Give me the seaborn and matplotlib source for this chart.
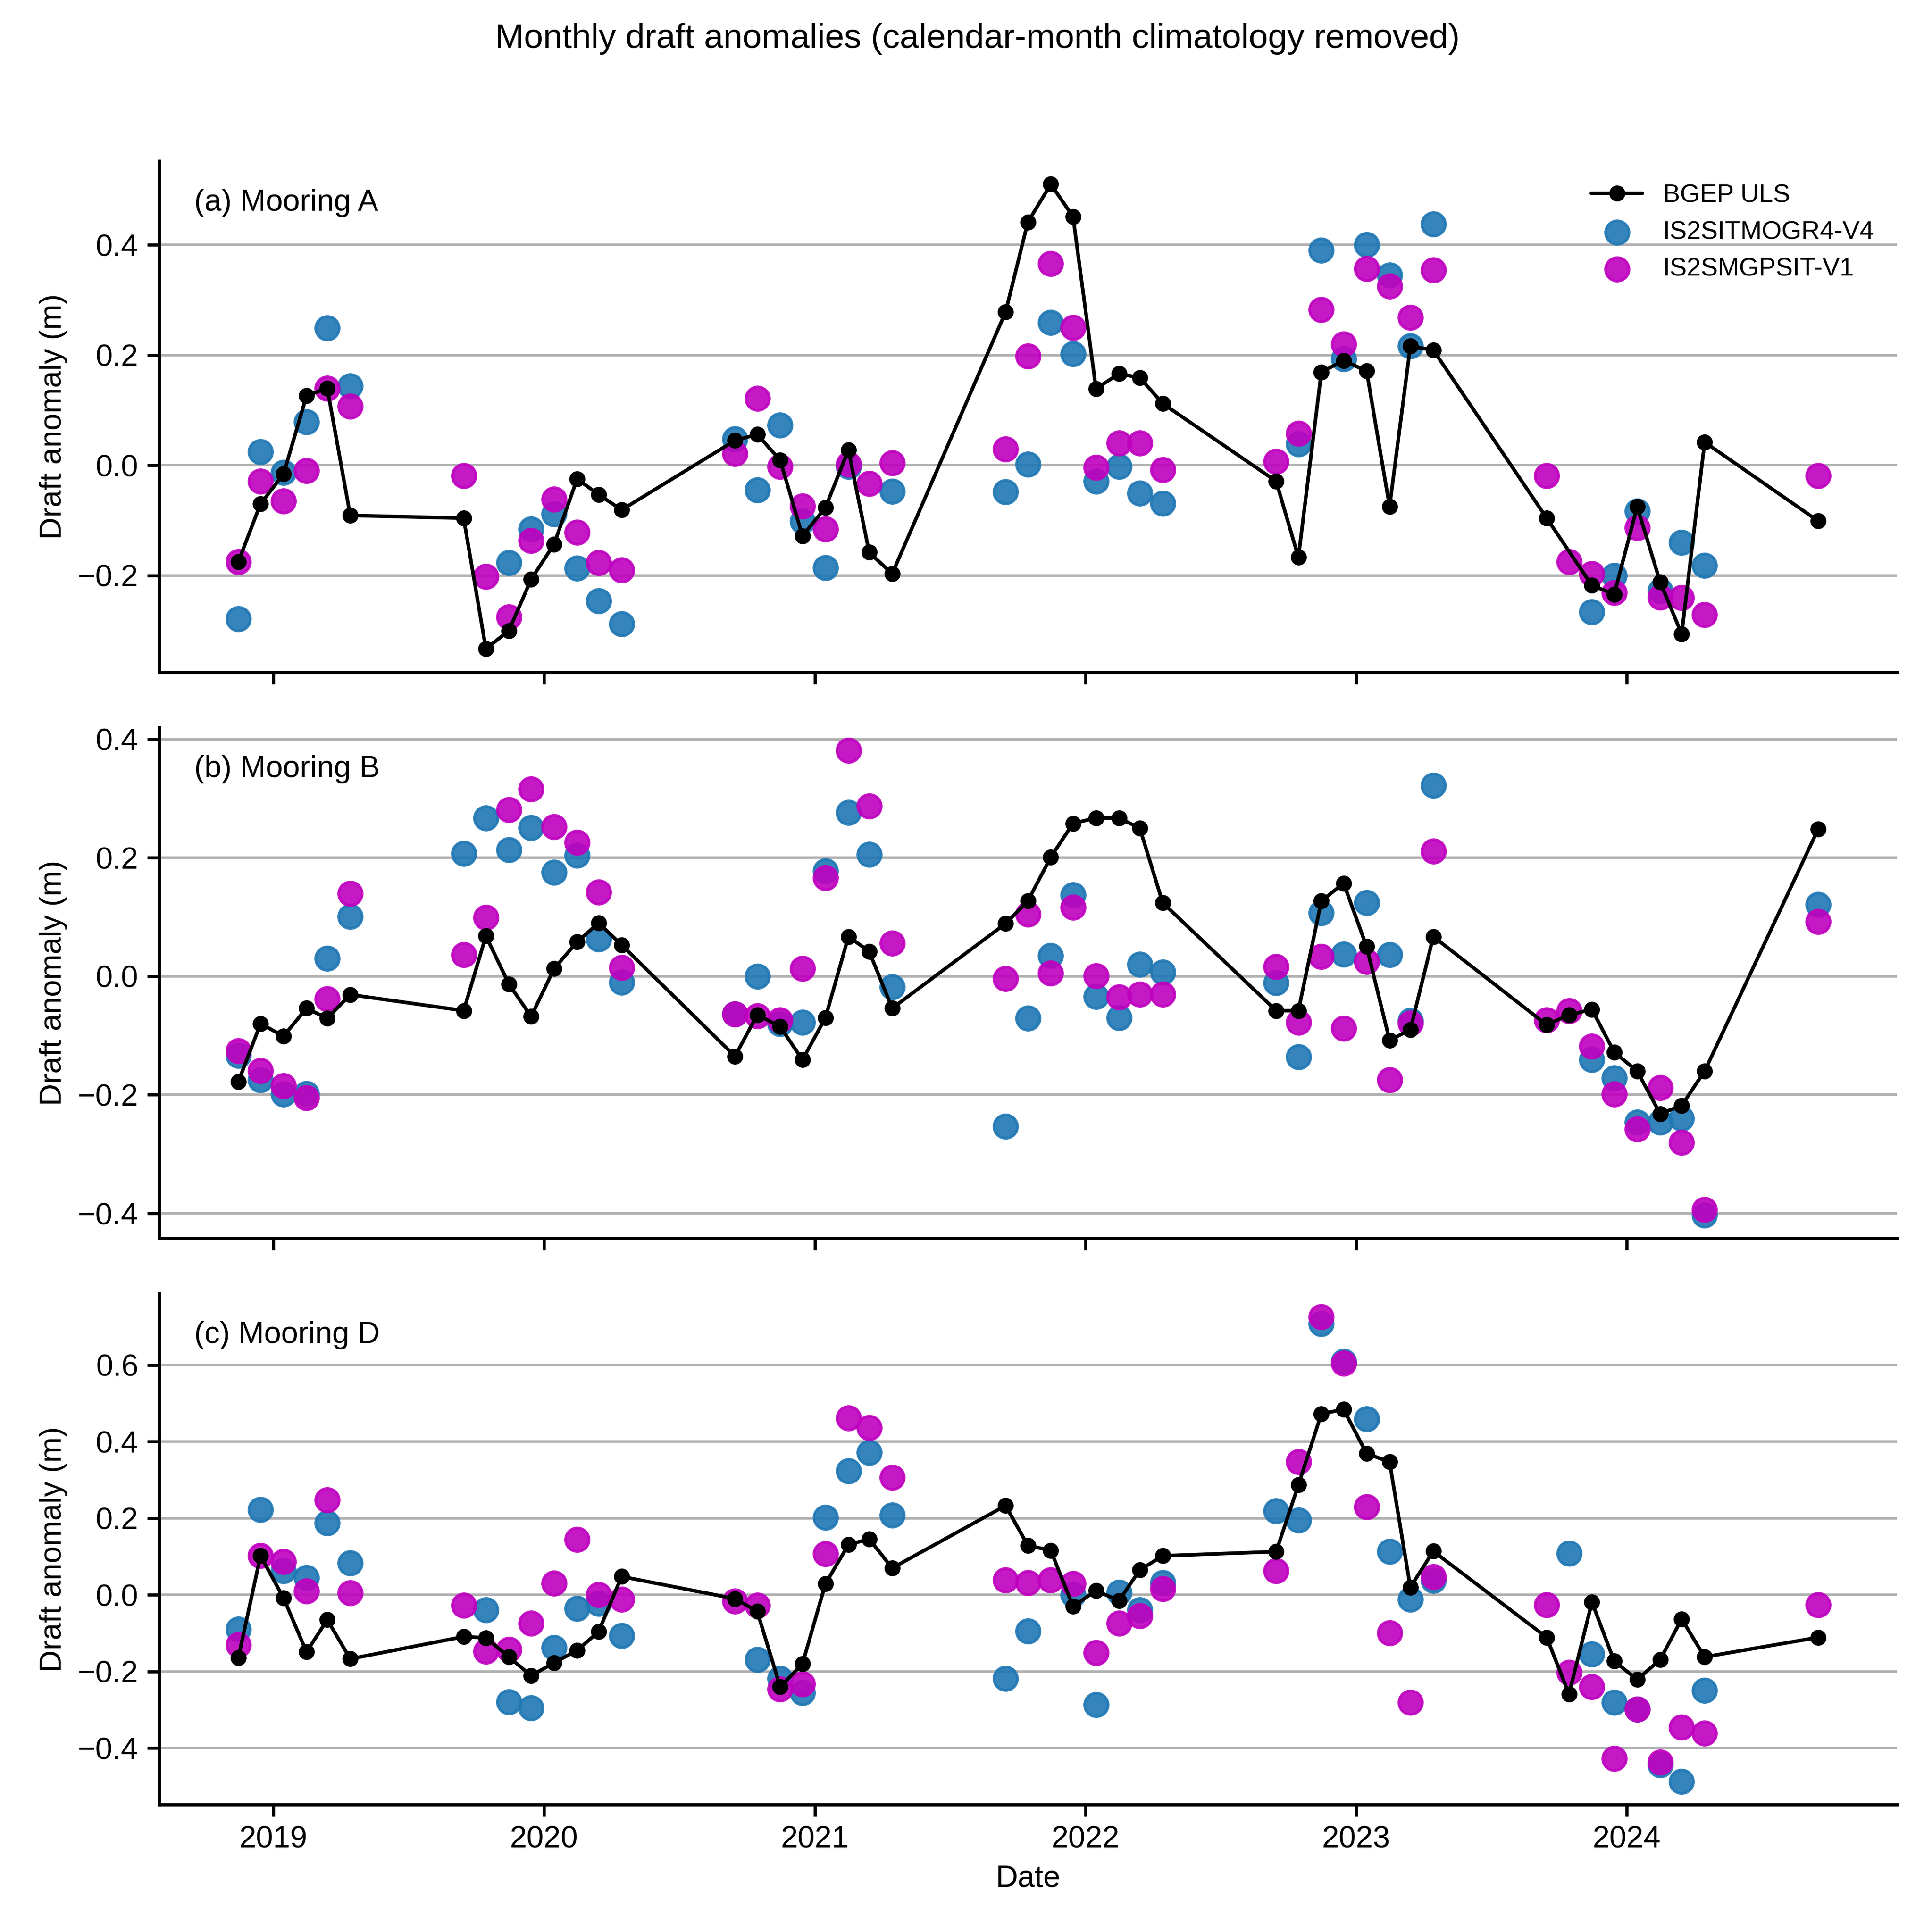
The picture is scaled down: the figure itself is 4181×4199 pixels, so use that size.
import numpy as np
import pandas as pd
import seaborn as sns
import matplotlib.pyplot as plt
import matplotlib.dates as mdates

# mid-month dates of the winter months with data
dates = [
    '2018-11-15', '2018-12-15', '2019-01-15', '2019-02-15', '2019-03-15', '2019-04-15',
    '2019-09-15', '2019-10-15', '2019-11-15', '2019-12-15', '2020-01-15', '2020-02-15', '2020-03-15', '2020-04-15',
    '2020-09-15', '2020-10-15', '2020-11-15', '2020-12-15', '2021-01-15', '2021-02-15', '2021-03-15', '2021-04-15',
    '2021-09-15', '2021-10-15', '2021-11-15', '2021-12-15', '2022-01-15', '2022-02-15', '2022-03-15', '2022-04-15',
    '2022-09-15', '2022-10-15', '2022-11-15', '2022-12-15', '2023-01-15', '2023-02-15', '2023-03-15', '2023-04-15',
    '2023-09-15', '2023-10-15', '2023-11-15', '2023-12-15', '2024-01-15', '2024-02-15', '2024-03-15', '2024-04-15',
    '2024-09-15',
]
N = None

# (a) Mooring A
uls_a = [-0.175, -0.070, -0.016, 0.126, 0.140, -0.091,
         -0.096, -0.333, -0.300, -0.207, -0.143, -0.025, -0.053, -0.081,
         0.045, 0.056, 0.009, -0.128, -0.077, 0.028, -0.158, -0.197,
         0.278, 0.441, 0.510, 0.451, 0.139, 0.166, 0.159, 0.112,
         -0.029, -0.167, 0.169, 0.190, 0.171, -0.075, 0.216, 0.209,
         -0.096, N, -0.218, -0.234, -0.075, -0.212, -0.306, 0.042,
         -0.101]
mogr_a = [-0.279, 0.024, -0.013, 0.079, 0.249, 0.144,
          N, N, -0.177, -0.116, -0.088, -0.187, -0.246, -0.288,
          0.048, -0.045, 0.073, -0.102, -0.186, -0.002, N, -0.047,
          -0.048, 0.002, 0.259, 0.202, -0.029, -0.002, -0.051, -0.069,
          N, 0.039, 0.390, 0.193, 0.400, 0.345, 0.216, 0.438,
          N, N, -0.266, -0.200, -0.083, -0.228, -0.140, -0.182,
          N]
smg_a = [-0.175, -0.029, -0.065, -0.010, 0.140, 0.107,
         -0.019, -0.202, -0.275, -0.137, -0.062, -0.122, -0.177, -0.190,
         0.021, 0.121, -0.002, -0.074, -0.116, 0.002, -0.033, 0.004,
         0.029, 0.198, 0.366, 0.250, -0.004, 0.040, 0.040, -0.008,
         0.007, 0.058, 0.282, 0.220, 0.357, 0.325, 0.268, 0.354,
         -0.019, -0.175, -0.197, -0.231, -0.113, -0.239, -0.240, -0.271,
         -0.019]

# (b) Mooring B
uls_b = [-0.178, -0.080, -0.101, -0.054, -0.071, -0.031,
         -0.058, 0.068, -0.013, -0.068, 0.013, 0.058, 0.090, 0.053,
         -0.135, -0.065, -0.085, -0.141, -0.070, 0.067, 0.042, -0.054,
         0.089, 0.127, 0.201, 0.258, 0.267, 0.267, 0.250, 0.124,
         -0.058, -0.058, 0.127, 0.157, 0.050, -0.108, -0.090, 0.067,
         -0.082, -0.065, -0.056, -0.128, -0.160, -0.232, -0.218, -0.160,
         0.248]
mogr_b = [-0.134, -0.175, -0.199, -0.198, 0.030, 0.101,
          0.207, 0.267, 0.213, 0.251, 0.175, 0.204, 0.063, -0.010,
          -0.064, 0.000, -0.080, -0.078, 0.178, 0.276, 0.206, -0.018,
          -0.253, -0.071, 0.035, 0.137, -0.034, -0.070, 0.020, 0.007,
          -0.011, -0.136, 0.107, 0.037, 0.124, 0.036, -0.075, 0.322,
          N, N, -0.141, -0.172, -0.246, -0.246, -0.240, -0.403,
          0.121]
smg_b = [-0.126, -0.159, -0.185, -0.205, -0.038, 0.140,
         0.036, 0.099, 0.281, 0.316, 0.252, 0.226, 0.142, 0.015,
         -0.064, -0.067, -0.074, 0.013, 0.166, 0.381, 0.287, 0.056,
         -0.004, 0.105, 0.005, 0.116, 0.001, -0.035, -0.030, -0.030,
         0.016, -0.078, 0.033, -0.088, 0.025, -0.175, -0.079, 0.211,
         -0.074, -0.058, -0.118, -0.199, -0.258, -0.188, -0.280, -0.394,
         0.092]

# (c) Mooring D
uls_d = [-0.164, 0.102, -0.008, -0.149, -0.065, -0.167,
         -0.109, -0.112, -0.162, -0.211, -0.177, -0.145, -0.096, 0.048,
         -0.010, -0.043, -0.240, -0.180, 0.029, 0.131, 0.146, 0.070,
         0.233, 0.129, 0.116, -0.030, 0.011, -0.015, 0.065, 0.102,
         0.113, 0.287, 0.473, 0.484, 0.369, 0.347, 0.020, 0.114,
         -0.111, -0.259, -0.019, -0.173, -0.221, -0.169, -0.063, -0.162,
         -0.111]
mogr_d = [-0.090, 0.223, 0.063, 0.045, 0.188, 0.083,
          N, -0.039, -0.280, -0.295, -0.138, -0.036, -0.023, -0.107,
          N, -0.169, -0.218, -0.255, 0.202, 0.323, 0.371, 0.208,
          -0.218, -0.094, N, 0.001, -0.287, 0.007, -0.039, 0.032,
          0.219, 0.195, 0.708, 0.609, 0.459, 0.113, -0.012, 0.038,
          N, 0.109, -0.155, -0.281, -0.299, -0.444, -0.487, -0.250,
          N]
smg_d = [-0.131, 0.102, 0.087, 0.010, 0.248, 0.005,
         -0.027, -0.147, -0.142, -0.074, 0.030, 0.144, 0.001, -0.012,
         -0.017, -0.027, -0.246, -0.233, 0.107, 0.462, 0.436, 0.307,
         0.039, 0.032, 0.039, 0.029, -0.151, -0.074, -0.055, 0.016,
         0.063, 0.347, 0.726, 0.605, 0.230, -0.099, -0.281, 0.047,
         -0.026, -0.202, -0.240, -0.427, -0.299, -0.437, -0.346, -0.361,
         -0.026]

panels = [
    ('(a) Mooring A', uls_a, mogr_a, smg_a),
    ('(b) Mooring B', uls_b, mogr_b, smg_b),
    ('(c) Mooring D', uls_d, mogr_d, smg_d),
]

sns.set_theme(style='ticks', color_codes=False)
plt.rcParams['font.family'] = ['Liberation Sans', 'DejaVu Sans']
plt.rcParams.update({
    'axes.linewidth': 1.2,
    'axes.edgecolor': 'black',
    'axes.labelcolor': 'black',
    'text.color': 'black',
    'xtick.color': 'black',
    'ytick.color': 'black',
})

fig, axes = plt.subplots(3, 1, figsize=(4181 / 400, 4199 / 400), sharex=True)
fig.subplots_adjust(left=0.0828, right=0.986, top=0.9167, bottom=0.0659, hspace=0.108)

blue = '#1f77b4'
magenta = '#bf00bf'

for i, (ax, (label, uls, mogr, smg)) in enumerate(zip(axes, panels)):
    df = pd.DataFrame({
        'date': pd.to_datetime(dates),
        'uls': pd.array(uls, dtype='Float64').astype(float),
        'mogr': pd.array(mogr, dtype='Float64').astype(float),
        'smg': pd.array(smg, dtype='Float64').astype(float),
    })
    line_df = df.dropna(subset=['uls'])
    sns.lineplot(data=line_df, x='date', y='uls', ax=ax, color='black', marker='o',
                 markersize=5.5, markeredgecolor='black', linewidth=1.4,
                 label='BGEP ULS', legend=(i == 0), sort=True)
    sns.scatterplot(data=df.dropna(subset=['mogr']), x='date', y='mogr', ax=ax,
                    color=blue, edgecolor=blue, linewidth=1, s=85, alpha=0.9,
                    label='IS2SITMOGR4-V4', legend=(i == 0))
    sns.scatterplot(data=df.dropna(subset=['smg']), x='date', y='smg', ax=ax,
                    color=magenta, edgecolor=magenta, linewidth=1, s=85, alpha=0.9,
                    label='IS2SMGPSIT-V1', legend=(i == 0))

    ax.yaxis.grid(True, color='#b0b0b0', linewidth=1.0)
    ax.set_axisbelow(True)
    ax.text(0.02, 0.946, label, transform=ax.transAxes, va='top', ha='left', fontsize=12)
    ax.set_ylabel('Draft anomaly (m)', fontsize=12)
    ax.set_xlabel('')
    ax.tick_params(axis='both', labelsize=12, length=4.7, width=1.2)
    sns.despine(ax=ax)

    if i == 0:
        ax.legend(loc='upper right', frameon=False, fontsize=10)
    elif ax.get_legend() is not None:
        ax.get_legend().remove()

axes[-1].xaxis.set_major_locator(mdates.YearLocator())
axes[-1].xaxis.set_major_formatter(mdates.DateFormatter('%Y'))
axes[-1].set_xlabel('Date', fontsize=12)

fig.suptitle('Monthly draft anomalies (calendar-month climatology removed)',
             x=0.508, y=0.988, fontsize=13.5)

fig.savefig('out.png', dpi=400)
